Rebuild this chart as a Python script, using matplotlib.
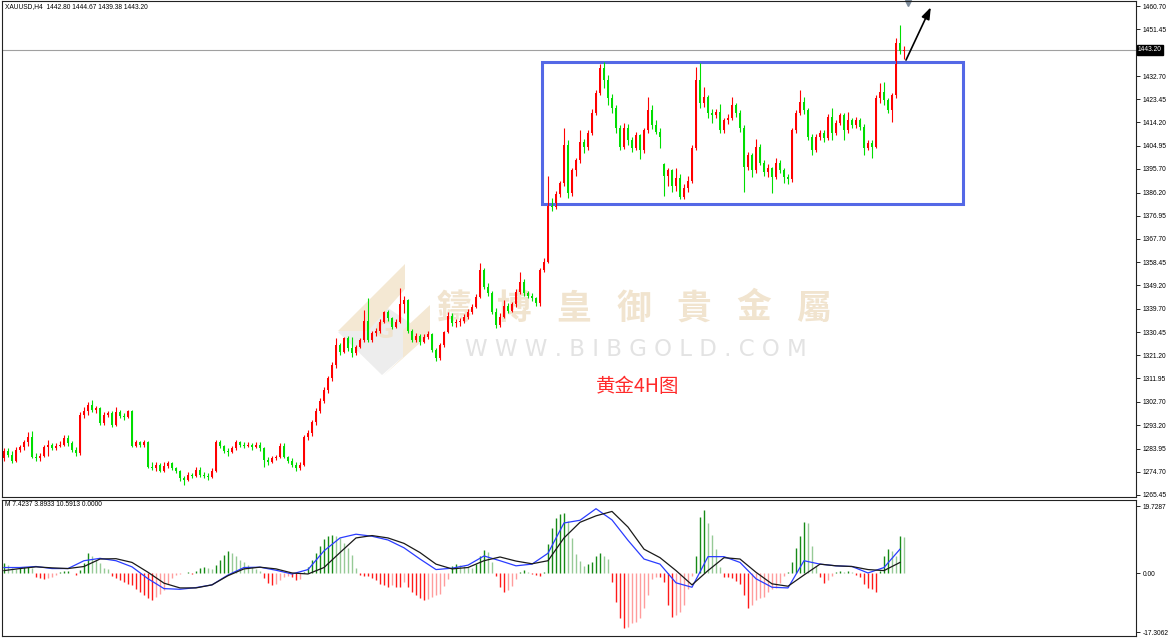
import numpy as np
import matplotlib.pyplot as plt
from matplotlib.patches import Rectangle, Polygon
from matplotlib.transforms import blended_transform_factory

plt.rcParams["font.family"] = ["Liberation Sans", "DejaVu Sans"]

# XAUUSD H4 candles, oldest first
opens = [1280.0, 1283.0, 1281.5, 1279.0, 1283.5, 1284.5, 1286.5, 1288.5, 1280.5, 1280.0,
         1281.0, 1284.5, 1285.5, 1284.0, 1285.0, 1285.5, 1288.0, 1286.0, 1283.5, 1282.0,
         1297.5, 1299.0, 1301.5, 1299.5, 1300.0, 1294.0, 1297.5, 1298.0, 1293.5, 1298.5,
         1297.0, 1296.5, 1299.0, 1285.0, 1286.5, 1285.5, 1286.5, 1276.5, 1276.0, 1277.5,
         1275.0, 1277.0, 1278.0, 1276.0, 1275.0, 1272.0, 1271.5, 1273.5, 1273.0, 1275.5,
         1273.5, 1273.0, 1272.5, 1275.0, 1286.5, 1285.0, 1283.0, 1282.5, 1284.0, 1286.5,
         1285.5, 1285.0, 1285.5, 1284.5, 1285.5, 1284.0, 1279.5, 1278.5, 1280.0, 1280.5,
         1285.0, 1280.5, 1279.0, 1277.5, 1276.0, 1277.5, 1288.5, 1290.0, 1294.5, 1299.0,
         1303.0, 1307.5, 1312.0, 1317.3, 1325.3, 1322.5, 1328.0, 1324.0, 1322.0, 1324.7,
         1327.3, 1335.0, 1327.3, 1330.0, 1331.0, 1334.5, 1338.3, 1336.0, 1332.5, 1334.5,
         1341.5, 1343.3, 1331.0, 1327.3, 1329.0, 1326.5, 1328.6, 1329.5, 1323.5, 1320.0,
         1325.3, 1330.5, 1337.0, 1334.0, 1334.5, 1335.0, 1336.3, 1338.6, 1340.5, 1344.6,
         1355.3, 1348.6, 1346.0, 1338.6, 1333.3, 1336.5, 1341.0, 1339.0, 1341.5, 1346.5,
         1350.6, 1345.9, 1345.0, 1344.0, 1341.9, 1355.3, 1358.6, 1382.0, 1380.5, 1385.5,
         1390.0, 1405.0, 1386.0, 1395.0, 1399.0, 1406.5, 1404.5, 1410.0, 1418.0, 1426.0,
         1436.0, 1431.0, 1424.0, 1420.0, 1412.0, 1404.5, 1412.0, 1407.0, 1404.0, 1409.0,
         1403.0, 1411.0, 1419.0, 1413.0, 1410.5, 1397.5, 1393.0, 1395.0, 1389.0, 1392.0,
         1384.5, 1388.0, 1391.0, 1404.0, 1431.0, 1422.0, 1424.5, 1418.0, 1417.0, 1418.5,
         1411.0, 1415.0, 1416.0, 1421.0, 1418.0, 1412.0, 1396.5, 1401.0, 1395.0, 1404.5,
         1398.0, 1394.5, 1396.0, 1392.5, 1398.0, 1395.0, 1392.5, 1391.5, 1411.0, 1417.8,
         1422.5, 1419.0, 1408.5, 1403.2, 1408.5, 1409.9, 1407.8, 1416.5, 1410.0, 1414.0,
         1417.0, 1411.0, 1415.2, 1413.0, 1415.0, 1412.5, 1404.0, 1406.0, 1404.5, 1424.0,
         1426.5, 1423.0, 1419.0, 1425.0, 1446.0, 1442.80]
highs = [1284.0, 1284.0, 1283.0, 1284.5, 1285.5, 1287.5, 1290.5, 1291.0, 1282.0, 1282.0,
         1285.5, 1287.5, 1286.0, 1286.0, 1287.0, 1289.5, 1289.5, 1287.0, 1284.5, 1298.5,
         1300.5, 1302.5, 1303.5, 1301.0, 1300.5, 1298.5, 1299.0, 1299.0, 1300.5, 1299.5,
         1298.0, 1299.5, 1299.5, 1287.5, 1287.0, 1287.5, 1287.0, 1278.5, 1278.5, 1278.0,
         1278.5, 1279.0, 1278.5, 1276.5, 1275.5, 1273.0, 1274.5, 1274.0, 1276.5, 1276.5,
         1274.5, 1274.0, 1276.0, 1287.5, 1287.5, 1285.5, 1284.0, 1285.0, 1287.5, 1287.0,
         1286.5, 1286.5, 1286.0, 1286.5, 1286.5, 1284.5, 1280.5, 1281.0, 1281.5, 1286.0,
         1286.0, 1281.0, 1280.0, 1278.5, 1278.5, 1289.5, 1291.5, 1295.5, 1300.0, 1304.0,
         1308.5, 1313.0, 1318.5, 1328.0, 1326.0, 1328.5, 1329.0, 1328.5, 1325.5, 1328.0,
         1339.3, 1343.9, 1331.0, 1332.0, 1335.5, 1339.0, 1339.3, 1336.5, 1335.5, 1347.9,
         1345.0, 1343.8, 1331.5, 1330.0, 1329.5, 1329.5, 1331.0, 1330.0, 1324.0, 1326.0,
         1331.0, 1338.5, 1338.0, 1335.5, 1336.0, 1337.5, 1339.5, 1341.5, 1345.5, 1357.9,
         1356.0, 1350.0, 1347.0, 1340.0, 1338.0, 1343.3, 1342.0, 1342.5, 1347.5, 1354.6,
         1351.5, 1347.0, 1346.0, 1344.5, 1356.0, 1360.0, 1393.0, 1384.0, 1387.0, 1391.0,
         1412.0, 1407.0, 1396.0, 1400.0, 1411.0, 1407.5, 1411.0, 1419.5, 1427.0, 1437.5,
         1438.3, 1433.0, 1425.5, 1421.0, 1413.0, 1414.0, 1413.5, 1408.5, 1410.5, 1409.5,
         1412.0, 1424.5, 1421.0, 1415.0, 1412.0, 1398.0, 1396.0, 1395.5, 1396.0, 1393.5,
         1389.5, 1393.0, 1405.0, 1436.5, 1437.9, 1428.5, 1425.0, 1419.5, 1419.5, 1421.5,
         1416.0, 1417.5, 1424.5, 1422.0, 1419.0, 1413.0, 1402.5, 1402.0, 1407.5, 1405.5,
         1399.0, 1397.5, 1396.5, 1400.0, 1399.0, 1396.0, 1393.5, 1412.0, 1419.0, 1427.2,
         1424.5, 1420.0, 1409.5, 1409.5, 1411.0, 1411.0, 1417.5, 1419.8, 1415.0, 1418.0,
         1418.0, 1418.5, 1416.0, 1416.5, 1416.0, 1413.5, 1407.0, 1407.0, 1425.0, 1429.8,
         1430.5, 1424.0, 1426.0, 1448.0, 1453.0, 1444.67]
lows = [1279.0, 1280.5, 1278.0, 1278.5, 1282.5, 1283.5, 1285.0, 1280.0, 1279.0, 1279.0,
        1280.5, 1281.0, 1283.5, 1283.5, 1284.5, 1285.0, 1285.0, 1282.5, 1281.0, 1281.5,
        1296.0, 1297.5, 1298.5, 1298.0, 1293.5, 1293.5, 1296.5, 1292.5, 1293.0, 1296.0,
        1295.5, 1296.0, 1284.5, 1284.5, 1284.5, 1284.5, 1276.0, 1275.5, 1275.0, 1274.5,
        1274.5, 1276.0, 1275.5, 1274.0, 1271.0, 1269.4, 1271.0, 1272.0, 1272.5, 1272.5,
        1272.0, 1271.5, 1272.0, 1274.5, 1284.0, 1282.0, 1281.0, 1282.0, 1283.5, 1284.5,
        1284.0, 1284.5, 1283.5, 1284.0, 1283.0, 1276.5, 1277.5, 1278.0, 1279.5, 1280.0,
        1280.0, 1278.0, 1276.5, 1275.0, 1275.5, 1277.0, 1287.5, 1289.0, 1293.5, 1298.0,
        1302.0, 1306.0, 1311.0, 1316.0, 1321.5, 1322.0, 1323.0, 1320.7, 1321.5, 1324.0,
        1326.5, 1326.5, 1326.5, 1329.0, 1330.0, 1334.0, 1335.0, 1331.5, 1332.0, 1334.0,
        1338.0, 1330.0, 1326.5, 1326.5, 1325.5, 1326.0, 1327.5, 1322.5, 1319.0, 1319.5,
        1324.5, 1330.0, 1333.0, 1332.5, 1333.0, 1334.0, 1335.5, 1337.5, 1340.0, 1344.0,
        1347.5, 1345.0, 1337.5, 1332.0, 1332.5, 1336.0, 1338.0, 1338.5, 1340.5, 1345.5,
        1345.0, 1344.0, 1343.0, 1341.0, 1341.0, 1354.5, 1358.0, 1379.0, 1379.5, 1384.5,
        1389.0, 1384.0, 1385.0, 1393.0, 1398.0, 1402.0, 1403.0, 1409.0, 1417.0, 1425.0,
        1428.0, 1421.0, 1418.0, 1410.0, 1403.0, 1403.5, 1405.0, 1402.5, 1403.0, 1399.5,
        1402.0, 1410.0, 1411.5, 1409.5, 1404.0, 1385.0, 1389.0, 1386.5, 1387.0, 1383.5,
        1383.5, 1386.5, 1390.0, 1403.0, 1420.0, 1420.5, 1416.0, 1414.0, 1416.0, 1410.0,
        1410.0, 1413.5, 1415.0, 1416.5, 1410.5, 1386.6, 1395.0, 1392.5, 1394.0, 1397.0,
        1393.0, 1392.5, 1386.0, 1391.5, 1394.0, 1390.0, 1389.8, 1390.5, 1410.0, 1417.0,
        1417.5, 1407.0, 1401.0, 1402.5, 1407.0, 1406.5, 1407.0, 1407.2, 1409.0, 1413.0,
        1407.2, 1410.0, 1412.0, 1412.0, 1411.0, 1401.0, 1403.0, 1400.0, 1404.0, 1422.0,
        1421.0, 1418.0, 1414.5, 1424.0, 1441.5, 1439.38]
closes = [1283.0, 1281.5, 1279.0, 1283.5, 1284.5, 1286.5, 1288.5, 1280.5, 1280.0, 1281.0,
          1284.5, 1285.5, 1284.0, 1285.0, 1285.5, 1288.0, 1286.0, 1283.5, 1282.0, 1297.5,
          1299.0, 1301.5, 1299.5, 1300.0, 1294.0, 1297.5, 1298.0, 1293.5, 1298.5, 1297.0,
          1296.5, 1299.0, 1285.0, 1286.5, 1285.5, 1286.5, 1276.5, 1276.0, 1277.5, 1275.0,
          1277.0, 1278.0, 1276.0, 1275.0, 1272.0, 1271.5, 1273.5, 1273.0, 1275.5, 1273.5,
          1273.0, 1272.5, 1275.0, 1286.5, 1285.0, 1283.0, 1282.5, 1284.0, 1286.5, 1285.5,
          1285.0, 1285.5, 1284.5, 1285.5, 1284.0, 1279.5, 1278.5, 1280.0, 1280.5, 1285.0,
          1280.5, 1279.0, 1277.5, 1276.0, 1277.5, 1288.5, 1290.0, 1294.5, 1299.0, 1303.0,
          1307.5, 1312.0, 1317.3, 1325.3, 1322.5, 1328.0, 1324.0, 1322.0, 1324.7, 1327.3,
          1335.0, 1327.3, 1330.0, 1331.0, 1334.5, 1338.3, 1336.0, 1332.5, 1334.5, 1341.5,
          1343.3, 1331.0, 1327.3, 1329.0, 1326.5, 1328.6, 1329.5, 1323.5, 1320.0, 1325.3,
          1330.5, 1337.0, 1334.0, 1334.5, 1335.0, 1336.3, 1338.6, 1340.5, 1344.6, 1355.3,
          1348.6, 1346.0, 1338.6, 1333.3, 1336.5, 1341.0, 1339.0, 1341.5, 1346.5, 1350.6,
          1345.9, 1345.0, 1344.0, 1341.9, 1355.3, 1358.6, 1382.0, 1380.5, 1385.5, 1390.0,
          1405.0, 1386.0, 1395.0, 1399.0, 1406.5, 1404.5, 1410.0, 1418.0, 1426.0, 1436.0,
          1431.0, 1424.0, 1420.0, 1412.0, 1404.5, 1412.0, 1407.0, 1404.0, 1409.0, 1403.0,
          1411.0, 1419.0, 1413.0, 1410.5, 1408.5, 1393.0, 1395.0, 1389.0, 1392.0, 1384.5,
          1388.0, 1391.0, 1404.0, 1431.0, 1422.0, 1424.5, 1418.0, 1417.0, 1418.5, 1411.0,
          1415.0, 1416.0, 1421.0, 1418.0, 1412.0, 1396.5, 1401.0, 1395.0, 1404.5, 1398.0,
          1394.5, 1396.0, 1392.5, 1398.0, 1395.0, 1392.5, 1391.5, 1411.0, 1417.8, 1422.5,
          1419.0, 1408.5, 1403.2, 1408.5, 1409.9, 1407.8, 1416.5, 1410.0, 1414.0, 1417.0,
          1411.0, 1415.2, 1413.0, 1415.0, 1412.5, 1404.0, 1406.0, 1404.5, 1424.0, 1426.5,
          1423.0, 1419.0, 1425.0, 1446.0, 1442.8, 1443.20]

# MACD histogram, one value per candle
macd_hist = [3.0, 2.5, 1.5, 1.3, 1.8, 2.0, 2.0, 1.5, -1.0, -1.4,
             -1.6, -1.4, -1.0, -0.5, 0.3, 0.6, 0.7, 0.2, -0.6, 1.0,
             3.0, 6.0, 5.0, 4.0, 3.0, 1.5, 1.2, -0.8, -1.5, -2.0,
             -2.5, -3.0, -3.5, -4.5, -5.5, -6.5, -7.3, -7.8, -7.0, -6.0,
             -5.0, -3.0, -1.5, -0.5, -0.3, 0.2, 0.3, -0.2, 0.8, 1.5,
             1.8, 1.6, 1.4, 2.5, 4.0, 5.5, 6.6, 6.0, 5.0, 4.0,
             3.2, 2.5, 2.0, 1.2, 0.8, -1.5, -2.8, -3.4, -3.0, -2.0,
             -1.2, -0.8, -1.0, -2.0, -1.8, 0.5, 2.0, 4.0, 6.0, 8.0,
             10.0, 11.0, 11.2, 10.9, 10.5, 9.0, 7.5, 5.5, 1.7, -0.5,
             -0.7, -0.7, -1.5, -2.0, -3.0, -3.5, -4.0, -3.5, -4.0, -4.1,
             -2.6, -4.1, -5.5, -6.5, -7.4, -7.9, -7.6, -7.0, -6.5, -6.0,
             -3.6, -1.6, 2.2, 2.7, 2.4, 2.2, 2.0, 1.7, 2.7, 5.1,
             6.9, 6.3, 3.2, -0.7, -4.1, -5.5, -5.0, -3.6, -1.6, 0.5,
             1.1, 0.5, -0.2, -0.5, -0.9, 0.3, 8.5, 13.3, 16.2, 17.5,
             17.7, 15.3, 10.4, 5.6, 3.7, 2.2, 2.7, 3.2, 5.1, 5.9,
             5.1, 4.2, -2.6, -8.4, -13.2, -16.1, -15.7, -14.7, -14.2, -13.2,
             -10.3, -6.5, -1.6, -1.2, -1.2, -2.6, -9.4, -12.8, -12.3, -11.3,
             -9.4, -4.5, -0.7, 5.1, 16.7, 18.5, 14.8, 11.4, 7.1, 2.0,
             -1.2, -1.2, -1.4, -2.4, -3.1, -6.5, -10.3, -9.4, -7.9, -7.4,
             -7.0, -5.5, -4.7, -4.3, -2.8, -0.9, 0.3, 3.2, 7.5, 11.1,
             15.0, 14.8, 8.0, 2.2, -1.2, -2.8, -2.1, -0.7, 0.5, 0.8,
             0.5, 0.7, 0.3, -0.5, -1.2, -3.1, -4.3, -4.7, -5.5, 0.8,
             5.1, 7.1, 6.6, 5.1, 10.9, 10.6]

# MACD lines, sampled every 4th candle
macd_blue = [1.7, 1.7, 2.0, 1.4, 1.4, 3.7, 4.4, 3.7, 1.9, -1.6,
             -4.5, -4.7, -4.2, -3.4, -0.5, 1.7, 1.8, 0.9, -0.2, 1.1,
             6.6, 10.4, 11.5, 10.9, 9.8, 7.5, 4.2, 1.1, 1.5, 2.4,
             5.1, 3.7, 2.2, 2.7, 5.9, 14.8, 15.6, 19.0, 15.7, 9.7,
             4.2, 2.7, -2.8, -4.1, 4.9, 4.9, 3.2, -1.6, -4.1, -4.3,
             3.7, 2.7, 2.2, 2.0, 0.1, 1.7, 7.1]
macd_black = [0.8, 1.4, 1.9, 1.6, 1.4, 2.0, 4.2, 4.3, 3.2, 0.3,
              -2.9, -4.3, -4.3, -3.4, -0.7, 1.3, 1.8, 1.3, 0.1, -0.2,
              1.7, 6.1, 10.4, 11.1, 10.4, 8.8, 6.1, 2.7, 1.3, 1.7,
              3.7, 4.8, 3.6, 2.8, 3.7, 10.4, 15.0, 16.9, 18.2, 13.6,
              7.1, 4.6, 0.8, -3.4, 0.8, 4.6, 4.2, 0.3, -3.1, -3.8,
              -0.5, 2.7, 2.2, 2.0, 1.1, 0.8, 3.2]
line_step = 4

price_ticks = [1460.70, 1451.45, 1432.70, 1423.45, 1414.20, 1404.95, 1395.70, 1386.20,
               1376.95, 1367.70, 1358.45, 1349.20, 1339.70, 1330.45, 1321.20, 1311.95,
               1302.70, 1293.20, 1283.95, 1274.70, 1265.45]
macd_ticks = [19.7287, 0.0, -17.3062]
macd_tick_labels = ["19.7287", "0.00", "-17.3062"]
last_price = 1443.20

o = np.array(opens)
h = np.array(highs)
l = np.array(lows)
c = np.array(closes)
hist = np.array(macd_hist)
idx = np.arange(len(c))
line_x = np.arange(len(macd_blue)) * line_step

fig = plt.figure(figsize=(11.7, 6.39), dpi=100)
fig.patch.set_facecolor("white")

# pixel-space layer for watermark and header texts
bg = fig.add_axes([0, 0, 1, 1], zorder=0)
bg.set_xlim(0, 1170)
bg.set_ylim(639, 0)
bg.axis("off")

ax = fig.add_axes([2 / 1170, 1 - 497 / 639, 1134 / 1170, 496 / 639], zorder=1)
ax2 = fig.add_axes([2 / 1170, 1 - 636 / 639, 1134 / 1170, 136 / 639], zorder=1)
for a in (ax, ax2):
    a.patch.set_visible(False)
    a.set_xlim(-0.5, 283.0)
    a.set_xticks([])
    a.yaxis.tick_right()
    a.tick_params(axis="y", length=3, width=0.6, pad=2, labelsize=4.8, colors="black")
    for s in a.spines.values():
        s.set_color("#222222")
        s.set_linewidth(0.8)

# watermark logo
bg.add_patch(Polygon([(338, 332), (388, 308), (428, 335), (382, 375)], closed=True,
                     facecolor="#ededed", edgecolor="none"))
bg.add_patch(Polygon([(338, 331), (405, 264), (405, 289), (368, 331)], closed=True,
                     facecolor="#f4e8d3", edgecolor="none"))
bg.add_patch(Polygon([(383, 376), (403, 357), (403, 330), (430, 305), (430, 334)], closed=True,
                     facecolor="#f4e8d3", edgecolor="none"))
bg.text(385, 331, "G", fontsize=17, color="#efe3ce", ha="center", va="center",
        fontweight="bold", family=["DejaVu Sans"])
for k, ch in enumerate("鑄博皇御貴金屬"):
    bg.text(454 + 60 * k, 308, ch, fontsize=25, color="#f1e4cf", ha="center", va="center",
            family=["Noto Sans CJK TC", "DejaVu Sans"], fontweight="bold")
bg.text(636, 349, "W W W . B I B G O L D . C O M", fontsize=16.5, color="#e3e3e3",
        ha="center", va="center", family=["DejaVu Sans"])
bg.text(638, 386, "黄金4H图", fontsize=14, color="#ff2a2a", ha="center", va="center",
        family=["Noto Sans CJK SC", "DejaVu Sans"])

bg.text(5, 7, "XAUUSD,H4  1442.80 1444.67 1439.38 1443.20", fontsize=4.8, ha="left", va="center")
bg.text(5, 505, "M 7.4237 3.8933 10.5913 0.0000", fontsize=4.8, ha="left", va="center")
bg.plot([908], [2.5], marker="v", color="#7d8c9c", markersize=4)

# candles
cols = np.where(c >= o, "#ff0000", "#00dd00")
ax.vlines(idx, l, h, colors=cols, linewidth=0.8)
ax.bar(idx, np.maximum(np.abs(c - o), 0.3), width=0.6, bottom=np.minimum(o, c),
       color=cols, linewidth=0)
ax.axhline(last_price, color="#a0a0a0", linewidth=0.8, zorder=0.5)
ax.add_patch(Rectangle((134.5, 1381.6), 105.25, 56.7, fill=False,
                       edgecolor="#5468e6", linewidth=2.2))
ax.annotate("", xy=(231.7, 1460.2), xytext=(225.5, 1439.1),
            arrowprops=dict(arrowstyle="-|>,head_length=0.7,head_width=0.25",
                            color="black", lw=1.2, shrinkA=0, shrinkB=0))
ax.set_ylim(1264.59, 1462.70)
ax.set_yticks(price_ticks)
ax.set_yticklabels([f"{v:.2f}" for v in price_ticks])
tr = blended_transform_factory(ax.transAxes, ax.transData)
ax.text(1.0 + 2 / 1134, last_price, f"{last_price:.2f}", transform=tr, fontsize=4.8,
        color="white", ha="left", va="center", clip_on=False, zorder=6,
        bbox=dict(boxstyle="square,pad=0.2", facecolor="black", edgecolor="black"))

# MACD panel
prev = np.concatenate([[hist[0]], hist[:-1]])
hcol = np.where(hist >= 0,
                np.where(hist >= prev, "#168a16", "#96ca96"),
                np.where(hist <= prev, "#ff1a1a", "#ff9c9c"))
ax2.vlines(idx, 0, hist, colors=hcol, linewidth=1.0)
ax2.plot(line_x, macd_blue, color="#2a3cff", linewidth=0.9)
ax2.plot(line_x, macd_black, color="#1a1a1a", linewidth=0.9)
ax2.set_ylim(-18.44, 21.56)
ax2.set_yticks(macd_ticks)
ax2.set_yticklabels(macd_tick_labels)

fig.savefig("out.png", dpi=100)
